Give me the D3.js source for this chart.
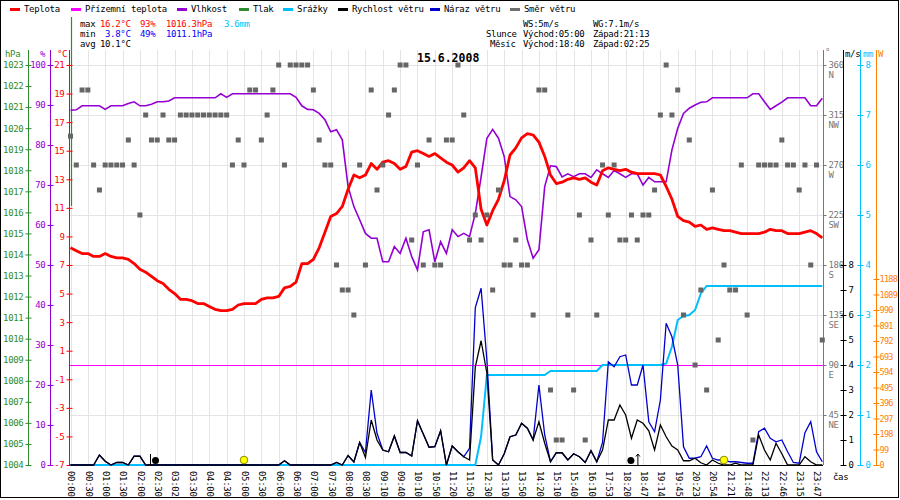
<!DOCTYPE html>
<html>
<head>
<meta charset="utf-8">
<script src="https://cdn.jsdelivr.net/npm/d3@7"></script>
<style>
  body { margin: 0; background: #fff; }
  text { font-family: 'DejaVu Sans Mono', monospace; font-size: 9px; letter-spacing: -0.3px; }
</style>
</head>
<body>
<svg id="chart"></svg>
<script>
// ---- data (one sample every 10 minutes, x axis is sample index) ----
const timeLabels = ['00:00','00:30','01:00','01:30','02:00','02:30','03:02','03:30','04:00','04:30',
  '05:00','05:30','06:00','06:30','07:00','07:30','08:00','08:30','09:10','09:40','10:10','10:50',
  '11:20','11:50','12:30','13:10','13:50','14:20','15:10','15:40','16:10','17:53','18:20','18:47',
  '19:14','19:45','20:23','20:54','21:21','21:48','22:13','22:46','23:15','23:47'];

// temperature [°C]
const temperature = [8.2,8.0,7.8,7.8,7.6,7.6,7.8,7.6,7.5,7.5,7.4,7.1,6.7,6.5,6.2,5.9,5.7,5.3,5.0,4.6,
  4.6,4.5,4.3,4.3,4.1,3.9,3.8,3.8,3.9,4.2,4.3,4.3,4.3,4.6,4.7,4.7,4.8,5.4,5.5,5.8,
  7.1,7.1,7.4,8.2,9.3,10.4,10.6,11.1,12.3,13.3,13.1,13.3,14.1,13.7,14.2,14.3,14.1,13.7,13.9,14.9,
  15.0,14.8,14.6,14.8,14.5,14.2,14.0,13.5,13.8,14.3,13.8,10.9,9.8,10.8,11.6,12.9,14.7,15.2,15.9,16.2,
  16.1,15.6,14.6,13.3,12.7,12.8,13.0,13.1,13.0,13.1,12.8,12.6,13.6,13.8,13.7,13.6,13.7,13.5,13.4,13.4,
  13.4,13.4,13.3,12.5,11.6,10.4,10.1,10.0,9.7,9.8,9.5,9.6,9.5,9.4,9.4,9.3,9.2,9.2,9.2,9.2,
  9.3,9.5,9.4,9.4,9.2,9.2,9.2,9.3,9.4,9.2,8.9];

// relative humidity [%]
const humidity = [88.7,88.8,89.8,89.8,89.8,89.8,88.9,89.8,89.8,89.8,90.4,90.8,89.8,89.8,90.2,90.8,90.8,91.0,91.8,91.8,
  91.8,91.8,91.8,91.8,91.8,91.8,92.8,91.9,92.8,92.8,92.8,92.8,92.8,92.8,92.8,92.8,92.8,92.8,92.8,91.9,
  89.8,88.9,88.8,87.9,86.3,83.3,83.8,81.3,69.6,64.6,61.3,57.9,56.7,56.7,50.8,50.8,54.6,52.9,56.7,52.1,
  48.8,58.3,58.8,50.8,55.8,52.9,58.8,57.1,57.9,57.1,62.9,72.0,81.7,83.9,81.7,77.1,67.1,66.3,64.6,56.3,
  51.7,53.8,69.6,74.8,74.6,72.0,72.8,72.1,72.8,72.8,71.9,73.8,72.8,71.9,73.6,72.8,71.9,72.8,72.8,70.0,
  71.9,70.8,70.8,70.8,78.8,84.2,87.9,89.2,90.0,90.7,90.8,91.8,91.8,91.8,91.8,91.8,91.8,91.8,92.8,92.8,
  90.8,88.9,89.8,90.7,91.8,91.8,91.8,91.8,89.8,89.8,91.7];

// cumulative rain [mm]
const rain = [0,0,0,0,0,0,0,0,0,0,0,0,0,0,0,0,0,0,0,0,
  0,0,0,0,0,0,0,0,0,0,0,0,0,0,0,0,0,0,0,0,
  0,0,0,0,0,0,0,0,0,0,0,0,0,0,0,0,0,0,0,0,
  0,0,0,0,0,0,0,0,0,0,0,0.57,1.8,1.8,1.8,1.8,1.8,1.8,1.8,1.8,
  1.8,1.8,1.8,1.88,1.88,1.88,1.88,1.88,1.88,1.88,1.88,1.88,2.0,2.0,2.0,2.0,2.0,2.0,2.0,2.0,
  2.0,2.0,2.0,2.03,2.37,2.9,2.98,3.0,3.1,3.43,3.58,3.58,3.58,3.58,3.58,3.58,3.58,3.58,3.58,3.58,
  3.58,3.58,3.58,3.58,3.58,3.58,3.58,3.58,3.58,3.58,3.58];

// wind speed [m/s]
const windSpeed = [0,0,0,0,0,0.4,0.15,0,0.1,0.1,0,0.35,0.35,0,0,0,0,0,0,0,
  0,0,0,0,0,0,0,0,0,0,0,0,0,0,0,0,0,0.17,0,0,
  0,0,0,0,0,0,0.1,0,0.38,0.12,0.9,0.3,1.8,1.0,0.6,0.53,1.16,0.5,0.5,0.36,
  1.77,1.24,0.71,0.73,1.37,0,0.76,0.53,0.33,0.2,3.93,4.97,3.67,0.2,0,0.45,1.13,1.2,1.67,1.47,
  1.0,1.73,0.87,0.13,0.49,0.49,0.2,0.45,0.33,0.1,0.57,0.13,0.6,1.8,1.8,2.4,2.0,1.07,1.8,1.67,
  1.37,0.6,1.6,1.13,0.76,0.6,0.17,0.17,0.27,0.09,0,0.2,0.07,0,0,0.07,0,0,0,1.2,
  0.6,0.2,0.87,0.45,0,0,0,0.33,0.13,0,0];

// wind gust [m/s]
const windGust = [0,0,0,0,0,0.4,0.15,0,0.1,0.1,0,0.35,0.35,0,0,0,0,0,0,0,
  0,0,0,0,0,0,0,0,0,0,0,0,0,0,0,0,0,0.17,0,0,
  0,0,0,0,0,0,0.1,0,0.38,0.12,0.9,0.5,3.0,1.27,0.6,0.53,1.16,0.5,0.5,0.36,
  1.77,1.24,0.71,0.73,1.37,0,0.76,0.53,0.33,0.67,6.3,7.07,4.2,0.2,0,0.45,1.13,1.2,1.67,1.47,
  1.0,3.2,1.2,0.13,0.49,0.49,0.2,0.45,0.33,0.1,0.57,0.13,0.9,4.13,3.93,4.33,4.4,3.2,3.2,4.0,
  1.73,1.33,2.6,5.67,5.13,4.0,0.73,0.27,0.27,0.33,0.76,0.27,0.2,0.2,0.13,0.13,0.1,0.07,0.07,1.33,
  1.47,1.07,0.93,1.0,0.53,0.1,0.07,1.29,1.73,0.53,0.13];

// wind direction [°]
const windDir = [296,270,337.5,337.5,270,247.5,270,270,270,270,292.5,270,225,315,292.5,292.5,315,292.5,292.5,315,
  315,315,315,315,315,315,315,315,270,292.5,270,337.5,337.5,292.5,315,337.5,360,270,360,360,
  360,360,337.5,292.5,270,270,180,157.5,157.5,135,270,180,337.5,247.5,270,315,337.5,360,360,202.5,
  270,180,292.5,180,180,292.5,292.5,360,315,202.5,225,202.5,225,157.5,247.5,180,180,202.5,180,180,
  135,337.5,337.5,67.5,22.5,22.5,135,67.5,225,22.5,202.5,135,270,225,270,202.5,202.5,225,202.5,225,
  225,247.5,315,360,315,337.5,135,292.5,90,157.5,67.5,247.5,112.5,180,157.5,157.5,270,135,22.5,270,
  270,270,270,292.5,270,270,247.5,270,180,270,112.5];

const pressureMax = 1016.3;
const compass = { 45: 'NE', 90: 'E', 135: 'SE', 180: 'S', 225: 'SW', 270: 'W', 315: 'NW', 360: 'N' };

const legendNames = ['Teplota', 'Přízemní teplota', 'Vlhkost', 'Tlak', 'Srážky', 'Rychlost větru', 'Náraz větru', 'Směr větru'];
const legendColors = ['#ff0000', '#ff00ff', '#9400d3', '#2e8b2e', '#00bfff', '#000000', '#0000cc', '#707070'];
const legendX = [10, 71, 177, 239, 283, 338, 430, 510];

// sun / moon events, as sample index
const events = [
  { i: 14.7, type: 'moonset' },
  { i: 30, type: 'sunrise' },
  { i: 96.9, type: 'moonrise' },
  { i: 113, type: 'sunset' }
];

// -------------------- drawing ---------------------
const W = 900, H = 500;
const plotTop = 65, plotBottom = 465, plotLeft = 70, plotRight = 823;
const svg = d3.select('#chart').attr('width', W).attr('height', H);

const x = d3.scaleLinear().domain([0, 130]).range([70.5, 822.3]);
const tempY = d3.scaleLinear().domain([-7, 21]).range([plotBottom, plotTop]);
const humY = d3.scaleLinear().domain([0, 100]).range([plotBottom, plotTop]);
const pressY = d3.scaleLinear().domain([1004, 1023]).range([plotBottom, plotTop]);
const dirY = d3.scaleLinear().domain([0, 360]).range([plotBottom, plotTop]);
const windY = d3.scaleLinear().domain([0, 16]).range([plotBottom, plotTop]);
const rainY = d3.scaleLinear().domain([0, 8]).range([plotBottom, plotTop]);
const wattY = d3.scaleLinear().domain([0, 2555]).range([plotBottom, plotTop]);

// grid
const grid = svg.append('g').attr('stroke', '#e4e4e4').attr('stroke-width', 1);
grid.selectAll('line.v').data(d3.range(timeLabels.length)).join('line')
  .attr('x1', k => Math.round(x(3 * k)) + 0.5).attr('x2', k => Math.round(x(3 * k)) + 0.5)
  .attr('y1', 50).attr('y2', plotBottom);
grid.selectAll('line.h').data(d3.range(0, 361, 45)).join('line')
  .attr('x1', plotLeft).attr('x2', plotRight)
  .attr('y1', d => Math.round(dirY(d)) + 0.5).attr('y2', d => Math.round(dirY(d)) + 0.5);

// zero line
svg.append('line').attr('x1', plotLeft).attr('x2', plotRight)
  .attr('y1', tempY(0) + 0.5).attr('y2', tempY(0) + 0.5).attr('stroke', '#ff00ff');

// vertical axes
function vAxis(xPos, scale, side, values, color, padding) {
  const axis = (side === 'left' ? d3.axisLeft(scale) : d3.axisRight(scale))
    .tickValues(values).tickSize(3).tickPadding(padding === undefined ? 2 : padding).tickSizeOuter(0)
    .tickFormat(d => String(d));
  const g = svg.append('g').attr('transform', `translate(${xPos},0)`).call(axis);
  g.select('.domain').remove();
  g.selectAll('.tick line').attr('x1', -3).attr('x2', 3).attr('stroke', color);
  g.selectAll('.tick text').attr('fill', color);
  svg.append('line').attr('x1', xPos).attr('x2', xPos).attr('y1', 50).attr('y2', plotBottom)
    .attr('stroke', color);
  return g;
}

vAxis(28.5, pressY, 'left', d3.range(1004, 1024), '#2e8b2e');
vAxis(50.5, humY, 'left', d3.range(0, 101, 10), '#9400d3');
// pressure trace (only the start is inside the chart)
svg.append('line').attr('x1', 71.5).attr('x2', 71.5).attr('y1', 17).attr('y2', pressY(pressureMax))
  .attr('stroke', '#2e8b2e').attr('stroke-width', 1.2);
vAxis(69.5, tempY, 'left', d3.range(-7, 22, 2), '#ff0000');

const dirAxis = vAxis(823.5, dirY, 'right', d3.range(45, 361, 45), '#777');
dirAxis.selectAll('.tick line').attr('x1', 0).attr('x2', 3);
dirAxis.selectAll('.tick text').append('tspan').attr('x', 5).attr('dy', 10).text(d => compass[d]);
vAxis(843.5, windY, 'right', d3.range(0, 9), '#000');
vAxis(860.5, rainY, 'right', d3.range(0, 9), '#00bfff');
const wattAxis = vAxis(876.5, wattY, 'right', d3.range(0, 1189, 99), '#ff8000', 0);
wattAxis.selectAll('.tick text').style('font-size', '8.5px').style('letter-spacing', '-0.7px');

// x axis line and labels
svg.append('line').attr('x1', plotLeft).attr('x2', plotRight)
  .attr('y1', plotBottom + 0.5).attr('y2', plotBottom + 0.5).attr('stroke', '#000');
svg.append('g').selectAll('text').data(timeLabels).join('text')
  .attr('transform', (d, k) => `translate(${x(3 * k) + 1},471) rotate(90)`)
  .attr('dy', '0.35em').text(d => d);
svg.append('text').attr('x', 833).attr('y', 480).text('čas');

// series
const line = yScale => d3.line().x((d, i) => x(i)).y(d => yScale(d));
svg.append('path').datum(rain).attr('d', line(rainY)).attr('fill', 'none')
  .attr('stroke', '#00bfff').attr('stroke-width', 2);
svg.append('path').datum(windGust).attr('d', line(windY)).attr('fill', 'none')
  .attr('stroke', '#0000cc').attr('stroke-width', 1.3);
svg.append('path').datum(windSpeed).attr('d', line(windY)).attr('fill', 'none')
  .attr('stroke', '#000').attr('stroke-width', 1.3);
svg.append('path').datum(humidity).attr('d', line(humY)).attr('fill', 'none')
  .attr('stroke', '#9400d3').attr('stroke-width', 1.6);
svg.append('path').datum(temperature).attr('d', line(tempY)).attr('fill', 'none')
  .attr('stroke', '#ff0000').attr('stroke-width', 2.8).attr('stroke-linejoin', 'round');

// wind direction dots
svg.append('g').selectAll('rect').data(windDir).join('rect')
  .attr('x', (d, i) => x(i) - 2.5).attr('y', d => dirY(d) - 2.5)
  .attr('width', 5).attr('height', 5).attr('fill', '#666');

// sun and moon markers
events.forEach(e => {
  const cx = x(e.i);
  if (e.type === 'sunrise' || e.type === 'sunset') {
    svg.append('circle').attr('cx', cx).attr('cy', 460).attr('r', 3.8)
      .attr('fill', '#ffff00').attr('stroke', '#8a8a00');
  } else {
    svg.append('circle').attr('cx', cx).attr('cy', 460.5).attr('r', 3.5).attr('fill', '#000');
    if (e.type === 'moonset') {
      svg.append('line').attr('x1', cx - 5).attr('x2', cx - 5).attr('y1', 454).attr('y2', 466)
        .attr('stroke', '#000');
    } else {
      svg.append('path').attr('d', `M${cx + 7},466V454M${cx + 5},456.5L${cx + 7},454L${cx + 9},456.5`)
        .attr('fill', 'none').attr('stroke', '#000');
    }
  }
});

// legend
const legend = svg.append('g');
legendNames.forEach((name, k) => {
  legend.append('rect').attr('x', legendX[k]).attr('y', 8).attr('width', 10).attr('height', 3)
    .attr('fill', legendColors[k]);
  legend.append('text').attr('x', legendX[k] + 14).attr('y', 12).text(name);
});

// header statistics
const statsLeft = [
  [80, 27, 'max', '#000'], [100, 27, '16.2°C', '#ff0000'], [140, 27, '93%', '#ff0000'],
  [166, 27, '1016.3hPa', '#ff0000'], [224, 27, '3.6mm', '#00bfff'],
  [80, 37, 'min', '#000'], [105, 37, '3.8°C', '#0000ff'], [140, 37, '49%', '#0000ff'],
  [166, 37, '1011.1hPa', '#0000ff'],
  [80, 47, 'avg', '#000'], [100, 47, '10.1°C', '#000']
];
const statsRight = [
  [523, 27, 'WS:5m/s'], [593, 27, 'WG:7.1m/s'],
  [486, 37, 'Slunce'], [523, 37, 'Východ:05:00'], [593, 37, 'Západ:21:13'],
  [490, 47, 'Měsíc'], [523, 47, 'Východ:18:40'], [593, 47, 'Západ:02:25']
];
statsLeft.forEach(([tx, ty, t, c]) => svg.append('text').attr('x', tx).attr('y', ty).attr('fill', c).text(t));
statsRight.forEach(([tx, ty, t]) => svg.append('text').attr('x', tx).attr('y', ty).text(t));

// units
[[5, 57, 'hPa', '#2e8b2e'], [40, 57, '%', '#9400d3'], [57, 57, '°C', '#ff0000'],
 [825, 55, '°', '#777'], [845, 57, 'm/s', '#000'], [863, 57, 'mm', '#00bfff'], [878, 57, 'W', '#ff8000']]
  .forEach(([tx, ty, t, c]) => svg.append('text').attr('x', tx).attr('y', ty).attr('fill', c).text(t));

// title
svg.append('text').attr('x', 417).attr('y', 62).style('font-size', '11.5px').style('font-weight', 'bold')
  .style('letter-spacing', '0px').text('15.6.2008');

// frame
svg.append('rect').attr('x', 0.5).attr('y', 0.5).attr('width', 898).attr('height', 497)
  .attr('fill', 'none').attr('stroke', '#000');
</script>
</body>
</html>
